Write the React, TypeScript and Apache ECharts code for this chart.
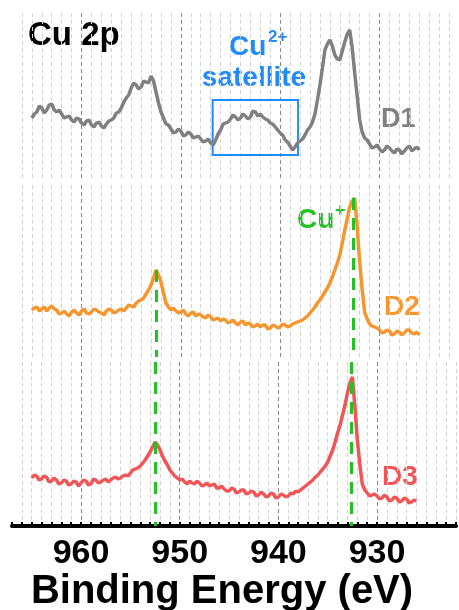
import React, { useEffect, useRef } from "react";
import * as echarts from "echarts";

// Binding energies (eV) of the sampled points
const energy = [
  965, 964.75, 964.5, 964.25,
  964, 963.75, 963.5, 963.25,
  963, 962.75, 962.5, 962.25,
  962, 961.75, 961.5, 961.25,
  961, 960.75, 960.5, 960.25,
  960, 959.75, 959.5, 959.25,
  959, 958.75, 958.5, 958.25,
  958, 957.75, 957.5, 957.25,
  957, 956.75, 956.5, 956.25,
  956, 955.75, 955.5, 955.25,
  955, 954.75, 954.5, 954.25,
  954, 953.75, 953.5, 953.25,
  953, 952.75, 952.5, 952.25,
  952, 951.75, 951.5, 951.25,
  951, 950.75, 950.5, 950.25,
  950, 949.75, 949.5, 949.25,
  949, 948.75, 948.5, 948.25,
  948, 947.75, 947.5, 947.25,
  947, 946.75, 946.5, 946.25,
  946, 945.75, 945.5, 945.25,
  945, 944.75, 944.5, 944.25,
  944, 943.75, 943.5, 943.25,
  943, 942.75, 942.5, 942.25,
  942, 941.75, 941.5, 941.25,
  941, 940.75, 940.5, 940.25,
  940, 939.75, 939.5, 939.25,
  939, 938.75, 938.5, 938.25,
  938, 937.75, 937.5, 937.25,
  937, 936.75, 936.5, 936.25,
  936, 935.75, 935.5, 935.25,
  935, 934.75, 934.5, 934.25,
  934, 933.75, 933.5, 933.25,
  933, 932.75, 932.5, 932.25,
  932, 931.75, 931.5, 931.25,
  931, 930.75, 930.5, 930.25,
  930, 929.75, 929.5, 929.25,
  929, 928.75, 928.5, 928.25,
  928, 927.75, 927.5, 927.25,
  927, 926.75, 926.5, 926.25,
  926,
];

// Intensities (a.u., offset per panel)
const d1 = [
  62, 66, 68, 74,
  72, 67, 70, 75,
  76, 70, 68, 70,
  66, 62, 63, 64,
  60, 58, 62, 61,
  57, 55, 59, 60,
  55, 53, 57, 58,
  54, 52, 56, 59,
  60, 62, 67, 68,
  72, 78, 82, 85,
  92, 97, 95, 91,
  93, 99, 98, 97,
  104, 99, 88, 77,
  68, 62, 56, 55,
  51, 47, 48, 51,
  49, 44, 45, 48,
  46, 42, 43, 44,
  41, 38, 39, 41,
  37, 35, 40, 46,
  50, 56, 57, 58,
  61, 65, 63, 60,
  62, 66, 64, 61,
  63, 69, 68, 64,
  66, 63, 61, 60,
  57, 56, 53, 50,
  47, 45, 40, 38,
  34, 30, 33, 37,
  39, 41, 45, 50,
  53, 58, 66, 80,
  95, 112, 130, 136,
  140, 134, 125, 121,
  120, 129, 138, 146,
  150, 132, 107, 84,
  60, 48, 42, 40,
  36, 32, 33, 35,
  31, 28, 30, 34,
  32, 29, 27, 31,
  30, 26, 29, 32,
  34, 29, 31, 33,
  30,
];
const d2 = [
  47, 49, 50, 46,
  48, 50, 46, 49,
  51, 48, 47, 43,
  44, 46, 43, 41,
  45, 47, 44, 42,
  46, 48, 44, 43,
  45, 48, 47, 45,
  44, 42, 46, 48,
  47, 44, 45, 47,
  48, 46, 49, 52,
  51, 50, 54, 56,
  57, 59, 63, 67,
  72, 79, 87, 82,
  75, 64, 54, 50,
  47, 49, 46, 44,
  45, 47, 43, 41,
  44, 45, 41, 43,
  42, 40, 39, 42,
  40, 37, 38, 39,
  36, 38, 37, 34,
  35, 37, 34, 32,
  35, 36, 32, 34,
  33, 30, 31, 33,
  30, 32, 32, 28,
  29, 32, 31, 29,
  30, 33, 32, 30,
  31, 33, 34, 35,
  36, 37, 39, 41,
  44, 47, 50, 54,
  57, 61, 65, 69,
  74, 80, 87, 94,
  102, 114, 127, 138,
  150, 156, 159, 130,
  95, 68, 45, 38,
  33, 31, 30, 29,
  27, 24, 25, 27,
  26, 22, 23, 26,
  25, 22, 24, 27,
  27, 24, 23, 25,
  22,
];
const d3 = [
  48, 51, 50, 46,
  47, 50, 49, 44,
  45, 48, 46, 42,
  43, 46, 45, 41,
  42, 45, 44, 40,
  43, 46, 45, 41,
  42, 47, 46, 43,
  44, 46, 47, 44,
  46, 48, 49, 47,
  48, 50, 51, 50,
  53, 56, 57, 58,
  60, 63, 66, 70,
  74, 79, 84, 81,
  76, 70, 65, 61,
  56, 53, 50, 48,
  46, 47, 44, 42,
  45, 43, 42, 45,
  43, 40, 41, 43,
  40, 41, 42, 38,
  38, 40, 37, 35,
  35, 38, 37, 33,
  34, 36, 36, 32,
  33, 35, 34, 30,
  31, 34, 32, 29,
  30, 33, 32, 28,
  29, 32, 31, 29,
  30, 33, 32, 35,
  34, 36, 38, 40,
  42, 44, 46, 49,
  51, 54, 57, 60,
  64, 70, 76, 84,
  93, 101, 111, 121,
  133, 143, 149, 120,
  86, 62, 42, 36,
  33, 30, 31, 32,
  30, 27, 28, 31,
  29, 25, 26, 29,
  28, 24, 25, 28,
  27, 23, 24, 26,
  25,
];

const seriesNames = ["D1", "D2", "D3"];
const xTickLabels = [960, 950, 940, 930];
const peakEnergies = [952.5, 932.6];
const satelliteEnergy = [946.8, 938.2];
const satelliteIntensity = [25, 80];
const xMin = 922;
const xMax = 967;

const GREY = "#808080";
const ORANGE = "#F7962E";
const RED = "#F25555";
const GREEN = "#20C420";
const BLUE = "#1E8CFF";
const FONT = "Liberation Sans, Arial, sans-serif";

export default function App() {
  const ref = useRef<HTMLDivElement>(null);

  useEffect(() => {
    const chart = echarts.init(ref.current!, null, { renderer: "svg" });

    const grids = [
      { left: 12, right: 0, top: 13, height: 167 },
      { left: 12, right: 0, top: 185, height: 172 },
      { left: 12, right: 0, top: 362, height: 164 },
    ];

    const majorIdx = (10 - (xMin % 10)) % 10;
    const splitColors = Array.from({ length: 10 }, (_, i) =>
      i === majorIdx ? "#8a8a8a" : "#d4d4d4"
    );

    const xAxes = grids.map((_, gi) => {
      const bottom = gi === grids.length - 1;
      return {
        type: "value",
        gridIndex: gi,
        min: xMin,
        max: xMax,
        interval: 1,
        inverse: true,
        splitLine: {
          show: true,
          showMaxLine: false,
          lineStyle: { color: splitColors, type: [4, 3], width: 1 },
        },
        axisLine: {
          show: bottom,
          onZero: false,
          lineStyle: { color: "#000", width: 4 },
        },
        axisTick: {
          show: bottom,
          inside: true,
          length: 4,
          lineStyle: { color: "#000", width: 2 },
        },
        axisLabel: {
          show: bottom,
          formatter: (v: number) =>
            xTickLabels.includes(Math.round(v)) ? String(Math.round(v)) : "",
          fontSize: 34,
          fontWeight: "bold",
          color: "#000",
          fontFamily: FONT,
          margin: 8,
        },
        name: bottom ? "Binding Energy (eV)" : "",
        nameLocation: "middle",
        nameGap: 43,
        nameTextStyle: {
          fontSize: 40,
          fontWeight: "bold",
          color: "#000",
          fontFamily: FONT,
          padding: [0, 24, 0, 0],
        },
      };
    });

    const yAxes = grids.map((g, gi) => ({
      type: "value",
      gridIndex: gi,
      min: 0,
      max: g.height,
      show: false,
    }));

    const valueAt = (arr: number[], e: number) => {
      let best = 0;
      energy.forEach((x, i) => {
        if (Math.abs(x - e) < Math.abs(energy[best] - e)) best = i;
      });
      return arr[best];
    };

    const greenLine = {
      symbol: ["none", "none"],
      silent: true,
      label: { show: false },
      lineStyle: { color: GREEN, width: 3, type: [12, 8] },
    };

    const series: any[] = [
      {
        name: seriesNames[0],
        type: "line",
        xAxisIndex: 0,
        yAxisIndex: 0,
        data: energy.map((e, i) => [e, d1[i]]),
        showSymbol: false,
        symbol: "none",
        lineStyle: { color: GREY, width: 3.5 },
        markArea: {
          silent: true,
          itemStyle: {
            color: "rgba(0,0,0,0)",
            borderColor: BLUE,
            borderWidth: 2,
          },
          data: [
            [
              { coord: [satelliteEnergy[0], satelliteIntensity[0]] },
              { coord: [satelliteEnergy[1], satelliteIntensity[1]] },
            ],
          ],
        },
      },
      {
        name: seriesNames[1],
        type: "line",
        xAxisIndex: 1,
        yAxisIndex: 1,
        data: energy.map((e, i) => [e, d2[i]]),
        showSymbol: false,
        symbol: "none",
        lineStyle: { color: ORANGE, width: 3.5 },
        markLine: {
          ...greenLine,
          data: peakEnergies.map((e) => [
            { coord: [e, valueAt(d2, e)] },
            { coord: [e, 0] },
          ]),
        },
      },
      {
        name: seriesNames[2],
        type: "line",
        xAxisIndex: 2,
        yAxisIndex: 2,
        data: energy.map((e, i) => [e, d3[i]]),
        showSymbol: false,
        symbol: "none",
        lineStyle: { color: RED, width: 3.5 },
        markLine: {
          ...greenLine,
          data: peakEnergies.map((e) => [
            { coord: [e, grids[2].height] },
            { coord: [e, 0] },
          ]),
        },
      },
    ];

    const txt = (
      text: string,
      x: number,
      y: number,
      size: number,
      color: string,
      align = "left"
    ) => ({
      type: "text",
      x,
      y,
      silent: true,
      style: {
        text,
        fill: color,
        fontSize: size,
        fontWeight: "bold",
        fontFamily: FONT,
        textAlign: align,
        textVerticalAlign: "middle",
      },
    });

    chart.setOption({
      animation: false,
      textStyle: { fontFamily: FONT },
      grid: grids,
      xAxis: xAxes,
      yAxis: yAxes,
      series,
      graphic: [
        txt("Cu 2p", 28, 33, 33, "#000"),
        txt("Cu", 229, 45, 28, BLUE),
        txt("2+", 268, 36, 17, BLUE),
        txt("satellite", 254, 76, 28, BLUE, "center"),
        txt(seriesNames[0], 381, 118, 27, GREY),
        txt("Cu", 297, 218, 28, GREEN),
        txt("+", 335, 210, 18, GREEN),
        txt(seriesNames[1], 384, 305, 28, ORANGE),
        txt(seriesNames[2], 382, 475, 28, RED),
      ],
    });

    return () => chart.dispose();
  }, []);

  return (
    <div
      ref={ref}
      style={{ position: "fixed", left: 0, top: 0, width: 459, height: 610 }}
    />
  );
}
